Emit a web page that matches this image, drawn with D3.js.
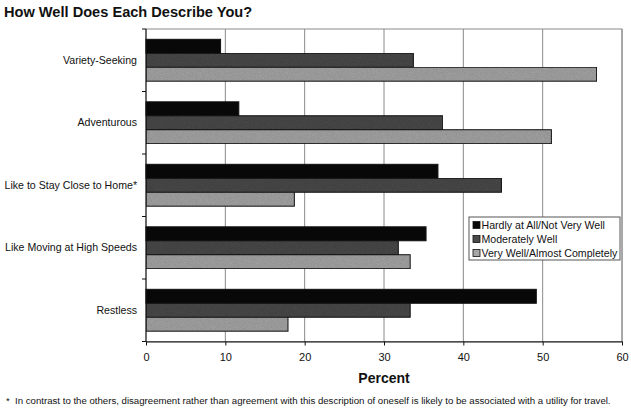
<!DOCTYPE html>
<html>
<head>
<meta charset="utf-8">
<script src="https://cdn.jsdelivr.net/npm/d3@7"></script>
<style>
  body { margin: 0; background: #fff; }
  svg { display: block; font-family: "Liberation Sans", Arial, sans-serif; }
</style>
</head>
<body>
<svg id="chart" width="631" height="409"></svg>
<script>
const categories = ["Variety-Seeking", "Adventurous", "Like to Stay Close to Home*", "Like Moving at High Speeds", "Restless"];
const seriesNames = ["Hardly at All/Not Very Well", "Moderately Well", "Very Well/Almost Completely"];
const hardly = [9.4, 11.7, 36.8, 35.3, 49.2];
const moderately = [33.7, 37.4, 44.8, 31.8, 33.3];
const veryWell = [56.8, 51.1, 18.7, 33.3, 17.9];
const xTicks = [0, 10, 20, 30, 40, 50, 60];
const titleText = "How Well Does Each Describe You?";
const xTitle = "Percent";
const footnote = "*  In contrast to the others, disagreement rather than agreement with this description of oneself is likely to be associated with a utility for travel.";

const seriesValues = [hardly, moderately, veryWell];
const colors = ["#080808", "#4a4a4a", "#a6a6a6"];

const svg = d3.select("#chart");
const mLeft = 146, mRight = 622, mTop = 29, mBottom = 341.5;

const x = d3.scaleLinear().domain([0, 60]).range([mLeft, mRight]);
const y = d3.scaleBand().domain(categories).range([mTop, mBottom]).paddingInner(0.33).paddingOuter(0.165);
const ySub = d3.scaleBand().domain(d3.range(seriesNames.length)).range([0, y.bandwidth()]).padding(0);

// noise texture filter
const defs = svg.append("defs");
const f = defs.append("filter").attr("id", "grain").attr("x", 0).attr("y", 0).attr("width", "100%").attr("height", "100%");
f.append("feTurbulence").attr("type", "fractalNoise").attr("baseFrequency", 1.2).attr("numOctaves", 1).attr("seed", 3).attr("result", "noise");
f.append("feColorMatrix").attr("in", "noise").attr("type", "matrix")
  .attr("values", "0 0 0 0 0  0 0 0 0 0  0 0 0 0 0  0 0 0 0.35 0").attr("result", "dots");
f.append("feComposite").attr("in", "dots").attr("in2", "SourceGraphic").attr("operator", "atop");

// plot border
svg.append("rect").attr("x", mLeft).attr("y", mTop).attr("width", mRight - mLeft).attr("height", mBottom - mTop)
  .attr("fill", "none").attr("stroke", "#8a8a8a").attr("stroke-width", 1);

// gridlines
svg.append("g").selectAll("line").data(xTicks.slice(1)).join("line")
  .attr("x1", d => x(d)).attr("x2", d => x(d)).attr("y1", mTop).attr("y2", mBottom)
  .attr("stroke", "#8a8a8a").attr("stroke-width", 1);

// bars
const groups = svg.append("g").selectAll("g").data(categories).join("g")
  .attr("transform", c => `translate(0,${y(c)})`);
groups.each(function(c, i) {
  d3.select(this).selectAll("rect").data(seriesValues.map((s, k) => ({k, v: s[i]}))).join("rect")
    .attr("x", x(0))
    .attr("y", d => ySub(d.k))
    .attr("width", d => x(d.v) - x(0))
    .attr("height", ySub.bandwidth())
    .attr("fill", d => colors[d.k])
    .attr("stroke", "#111")
    .attr("stroke-width", 1)
    .attr("filter", d => d.k > 0 ? "url(#grain)" : null);
});

// x axis
const xAxis = svg.append("g").attr("transform", `translate(0,${mBottom})`)
  .call(d3.axisBottom(x).tickValues(xTicks).tickSize(4).tickPadding(8).tickSizeOuter(0));
xAxis.select(".domain").attr("stroke", "#111");
xAxis.selectAll(".tick line").attr("stroke", "#111");
xAxis.selectAll("text").attr("font-size", 11).attr("fill", "#111").attr("font-family", "Liberation Sans, Arial, sans-serif");

// y axis
const yAxis = svg.append("g").attr("transform", `translate(${mLeft},0)`);
yAxis.append("line").attr("x1", 0).attr("x2", 0).attr("y1", mTop).attr("y2", mBottom).attr("stroke", "#111");
const yScaleTicks = d3.scaleLinear().domain([0, categories.length]).range([mTop, mBottom]);
yAxis.selectAll("line.tk").data(d3.range(categories.length + 1)).join("line").attr("class", "tk")
  .attr("x1", -4).attr("x2", 0).attr("y1", d => yScaleTicks(d)).attr("y2", d => yScaleTicks(d)).attr("stroke", "#111");
yAxis.selectAll("text").data(categories).join("text")
  .attr("x", -9).attr("y", c => y(c) + y.bandwidth() / 2)
  .attr("dy", "0.35em").attr("text-anchor", "end").attr("font-size", 10.6).attr("fill", "#111").text(c => c);

// title
svg.append("text").attr("x", 4).attr("y", 17).attr("font-size", 14.6).attr("font-weight", "bold").attr("fill", "#111").text(titleText);
// x title
svg.append("text").attr("x", (mLeft + mRight) / 2).attr("y", 383).attr("text-anchor", "middle")
  .attr("font-size", 14).attr("font-weight", "bold").attr("fill", "#111").text(xTitle);
// footnote
svg.append("text").attr("x", 6).attr("y", 404).attr("font-size", 9.65).attr("fill", "#111").style("white-space", "pre").text(footnote);

// legend
const lg = svg.append("g").attr("transform", "translate(469,217)");
lg.append("rect").attr("width", 151).attr("height", 43).attr("fill", "#fff").attr("stroke", "#555");
const items = lg.selectAll("g").data(seriesNames).join("g").attr("transform", (d, i) => `translate(4,${8 + i * 14})`);
items.append("rect").attr("x", 0).attr("y", -3.5).attr("width", 7).attr("height", 7)
  .attr("fill", (d, i) => colors[i]).attr("stroke", "#111").attr("stroke-width", 0.8);
items.append("text").attr("x", 8.5).attr("y", 0).attr("dy", "0.35em").attr("font-size", 10.6).attr("fill", "#111").text(d => d);
</script>
</body>
</html>
